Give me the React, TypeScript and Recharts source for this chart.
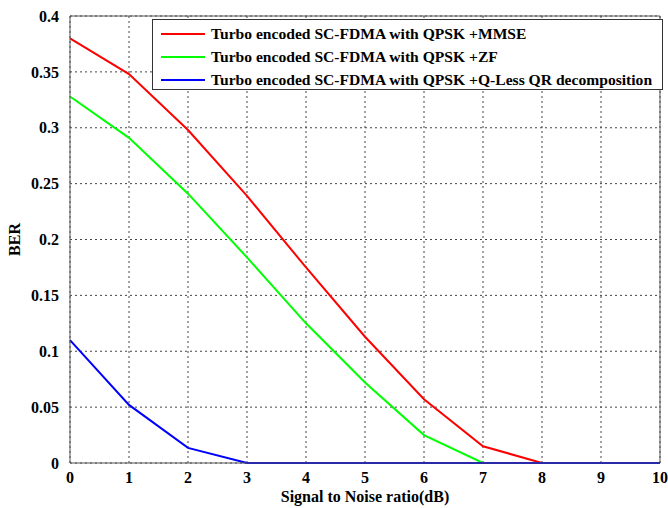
import React from "react";
import { LineChart, Line, XAxis, YAxis, CartesianGrid, ReferenceLine, Label } from "recharts";

const snr = [0, 1, 2, 3, 4, 5, 6, 7, 8, 9, 10];
const mmse = [0.38, 0.348, 0.298, 0.239, 0.175, 0.113, 0.057, 0.015, 0, 0, 0];
const zf = [0.328, 0.291, 0.241, 0.184, 0.125, 0.072, 0.025, 0, 0, 0, 0];
const qless = [0.11, 0.052, 0.0135, 0, 0, 0, 0, 0, 0, 0, 0];
const xTicks = [0, 1, 2, 3, 4, 5, 6, 7, 8, 9, 10];
const yTicks = [0, 0.05, 0.1, 0.15, 0.2, 0.25, 0.3, 0.35, 0.4];

const series = [
  { key: "mmse", name: "Turbo encoded SC-FDMA with QPSK +MMSE", color: "#ff0000" },
  { key: "zf", name: "Turbo encoded SC-FDMA with QPSK +ZF", color: "#00ff00" },
  { key: "qless", name: "Turbo encoded SC-FDMA with QPSK +Q-Less QR decomposition", color: "#0000ff" },
];

const data = snr.map((s, i) => ({ snr: s, mmse: mmse[i], zf: zf[i], qless: qless[i] }));

const FONT = '"Liberation Serif", "Times New Roman", serif';
const txt = { fill: "#000", fontFamily: FONT, fontWeight: "bold", fontSize: 16 } as const;

// legend drawn as a plain box over the plot, like matlab does it
function LegendBox() {
  return (
    <div style={{ position: "absolute", left: 152, top: 19, width: 511, height: 71, boxSizing: "border-box", border: "1px solid #333", background: "#fff", padding: "2px 0 0 8px", fontFamily: FONT, fontWeight: "bold", fontSize: 15.6 }}>
      {series.map(s => (
        <div key={s.key} style={{ display: "flex", alignItems: "center", height: 23 }}>
          <div style={{ width: 44, height: 2, background: s.color, marginRight: 6, flexShrink: 0 }} />
          <span style={{ color: "#000", whiteSpace: "nowrap" }}>{s.name}</span>
        </div>
      ))}
    </div>
  );
}

export default function App() {
  return (
    <div style={{ position: "absolute", left: 0, top: 0, width: 668, height: 508, background: "#fff" }}>
      <LineChart width={668} height={508} data={data} margin={{ top: 16, right: 8, left: 10, bottom: 0 }}>
        <CartesianGrid stroke="#444" strokeDasharray="2 3" strokeWidth={1} />
        <XAxis
          dataKey="snr"
          type="number"
          domain={[0, 10]}
          ticks={xTicks}
          tickLine={false}
          axisLine={{ stroke: "#555" }}
          tick={txt}
          tickMargin={3}
          height={45}
        >
          <Label value="Signal to Noise ratio(dB)" position="insideBottom" offset={6} style={txt} />
        </XAxis>
        <YAxis
          type="number"
          domain={[0, 0.4]}
          ticks={yTicks}
          tickLine={false}
          axisLine={{ stroke: "#555" }}
          tick={txt}
          tickFormatter={(v: number) => String(v)}
          tickMargin={5}
          width={60}
        >
          <Label value="BER" angle={-90} position="insideLeft" offset={4} style={{ ...txt, textAnchor: "middle" }} />
        </YAxis>
        <ReferenceLine y={0.4} stroke="#555" />
        <ReferenceLine x={10} stroke="#555" />
        {series.map(s => (
          <Line
            key={s.key}
            type="linear"
            dataKey={s.key}
            name={s.name}
            stroke={s.color}
            strokeWidth={2}
            dot={false}
            isAnimationActive={false}
          />
        ))}
      </LineChart>
      <LegendBox />
    </div>
  );
}
